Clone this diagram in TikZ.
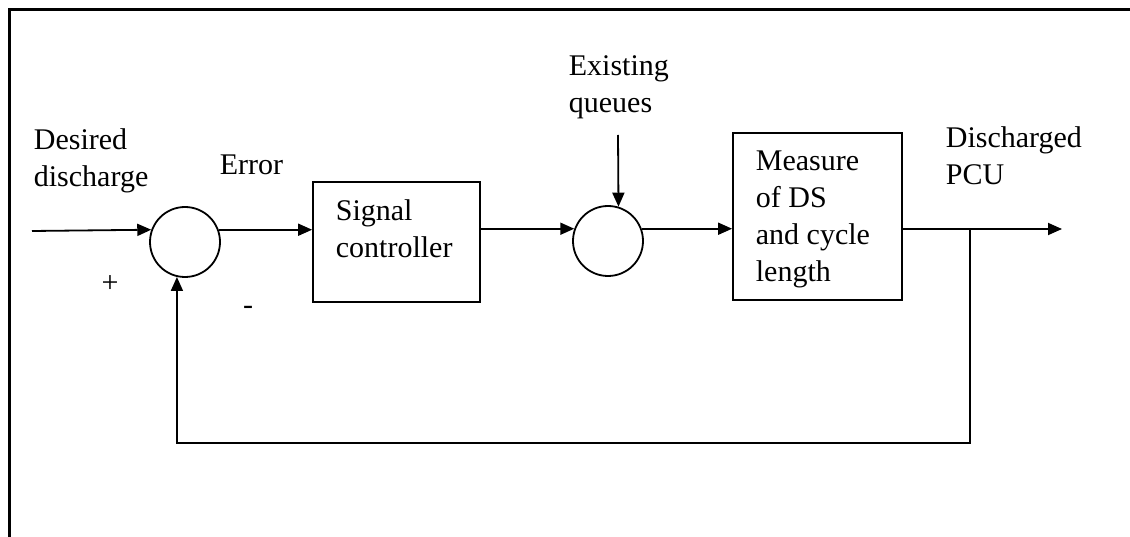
\documentclass[tikz,border=0pt]{standalone}
\usepackage{fontspec}
\setmainfont{Liberation Serif}
\usetikzlibrary{arrows.meta}
\begin{document}
\begin{tikzpicture}[x=1pt,y=-1pt,
  line width=1.8pt,
  conn/.style={-{Triangle[length=14pt,width=12pt]}},
  sumnode/.style={circle,draw,minimum size=70pt,inner sep=0pt},
  blockbox/.style={draw,rectangle,inner sep=0pt},
  lbl/.style={inner sep=0pt,anchor=base west,align=left,font=\fontsize{30}{37}\selectfont},
  sign/.style={inner sep=0pt,font=\fontsize{30}{37}\selectfont}]
\useasboundingbox (0,0) rectangle (1130,537);
\draw[line width=3pt] (9,537) -- (9,10) -- (1130,10);

% summing junctions and blocks
\node[sumnode] (s1) at (185,242) {};
\node[sumnode] (s2) at (608,241) {};
\node[blockbox,minimum width=167pt,minimum height=120pt] (sc) at (396.5,242) {};
\node[blockbox,minimum width=169pt,minimum height=167pt] (ms) at (817.5,216.5) {};

% labels (anchor is the baseline of the last line)
\node[lbl] (ldes) at (33,187) {Desired\\discharge};
\node[lbl] (lerr) at (219,175) {Error};
\node[sign] (lplus) at (110,284) {+};
\node[sign] (lminus) at (248,310) {-};
\node[lbl] (lsc) at (335,258) {Signal\\controller};
\node[lbl] (lq) at (568,113) {Existing\\queues};
\node[lbl] (lms) at (755,282) {Measure\\of DS\\and cycle\\length};
\node[lbl] (lpcu) at (945,185) {Discharged\\PCU};

% connectors
\coordinate (in) at (32,231);
\coordinate (q) at (618,135);
\coordinate (out) at (1062,229);
\coordinate (br) at (970,229);
\coordinate (fb) at (970,443);

\draw[conn] (in) -- (s1.160);
\draw[conn] (s1.20) -- (s1.20 -| sc.west);
\draw[conn] (sc.east |- s2.160) -- (s2.160);
\draw[conn] (s2.20) -- (s2.20 -| ms.west);
\draw[conn] (q) -- (s2.73);
\draw[conn] (ms.east |- out) -- (out);
\draw[conn] (br) -- (fb) -| (s1.257);
\end{tikzpicture}
\end{document}
